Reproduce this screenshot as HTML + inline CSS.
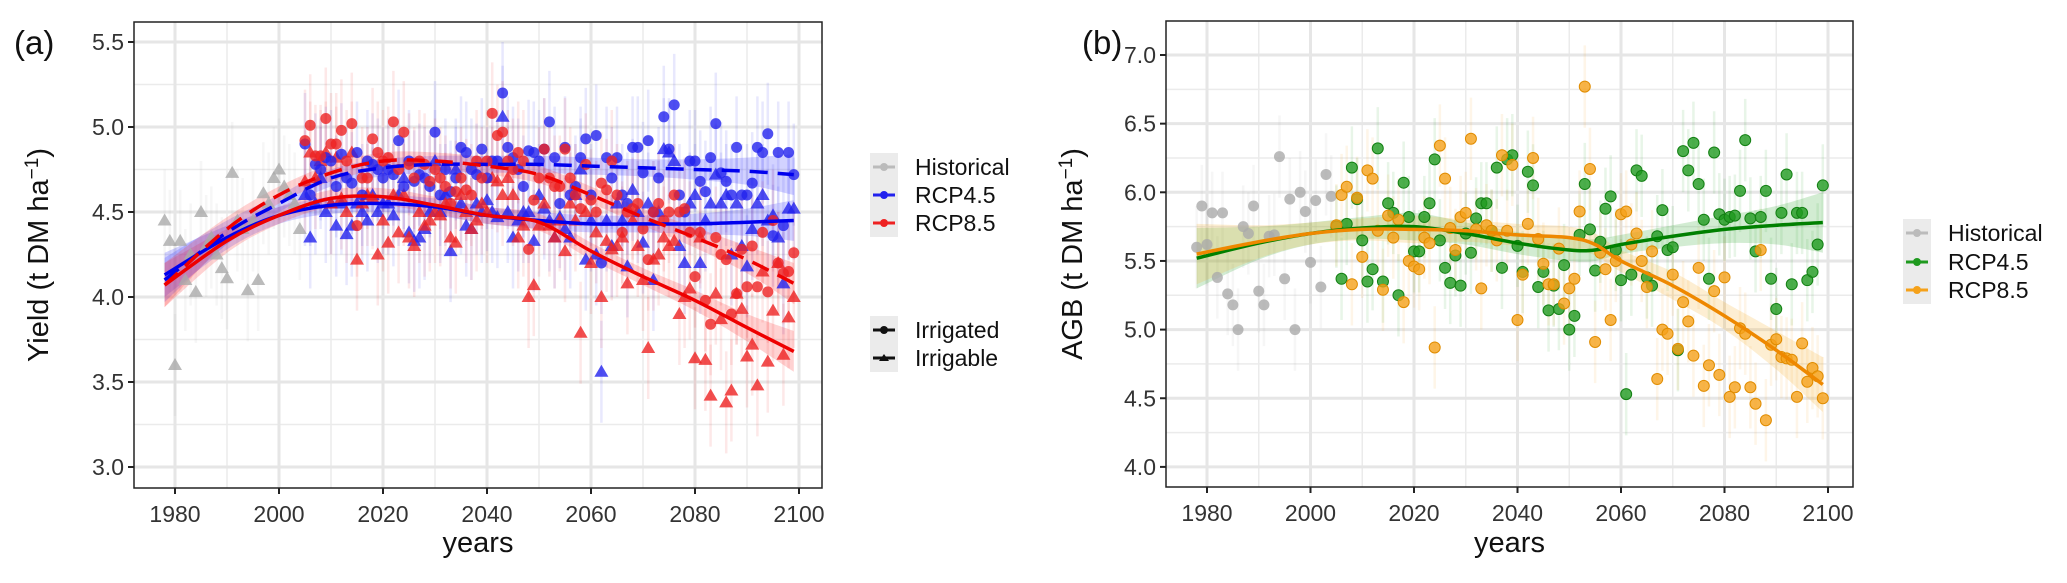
<!DOCTYPE html>
<html><head><meta charset="utf-8"><style>
html,body{margin:0;padding:0;background:#fff;}
svg{display:block;font-family:"Liberation Sans",sans-serif;}
</style></head><body>
<svg id="fig" width="2067" height="583" viewBox="0 0 2067 583" xmlns="http://www.w3.org/2000/svg">
<g id="pa"></g>
<g id="pb"></g>
</svg>
<script>
// ---------- Panel A data ----------
const histYearsA0 = 1978;
const histA = [4.45,4.33,3.6,4.33,4.1,4.25,4.03,4.5,4.3,4.35,4.25,4.17,4.11,4.73,4.45,4.4,4.04,4.45,4.1,4.61,4.55,4.7,4.75,4.65,4.6,4.55,4.4];
const futYear0 = 2005;
const r45IrrigatedA = [4.9,4.6,4.78,4.75,4.82,4.8,4.65,4.84,4.7,4.67,4.85,4.6,4.8,4.78,4.75,4.7,4.75,4.72,4.92,4.65,4.8,4.68,4.72,4.7,4.65,4.97,4.6,4.75,4.62,4.7,4.88,4.85,4.75,4.72,4.87,4.7,4.8,4.8,5.2,4.88,4.82,4.75,4.65,4.86,4.85,4.8,4.87,5.03,4.82,4.55,4.88,4.6,4.65,4.82,4.93,4.6,4.95,4.2,4.82,4.7,4.82,4.6,4.55,4.88,4.88,4.73,4.92,4.5,4.7,5.06,4.87,5.13,4.6,4.5,4.8,4.8,4.68,4.62,4.82,5.02,4.73,4.68,4.6,4.88,4.6,4.6,4.67,4.88,4.85,4.96,4.36,4.85,4.42,4.85,4.72];
const r45IrrigableA = [4.6,4.35,4.55,4.7,4.5,4.55,4.42,4.55,4.37,4.42,4.55,4.5,4.45,4.6,4.5,4.55,4.55,4.48,4.6,4.7,4.38,4.33,4.35,4.4,4.5,4.8,4.5,4.6,4.27,4.75,4.55,4.42,4.4,4.55,4.5,4.57,4.5,4.47,5.06,4.5,4.35,4.45,4.5,4.5,4.33,4.6,4.52,4.45,4.35,4.47,4.4,4.35,4.6,4.75,4.22,4.45,4.25,3.56,4.45,4.3,4.55,4.45,4.18,4.63,4.5,4.32,4.55,4.1,4.5,4.87,4.85,4.8,4.3,4.2,4.55,4.6,4.2,4.45,4.55,4.72,4.55,4.6,4.25,4.55,4.3,4.18,4.4,4.55,4.6,4.45,4.48,4.35,4.08,4.52,4.52];
const r85IrrigatedA = [4.92,5.01,4.83,4.83,5.05,4.9,4.9,4.98,4.8,5.02,4.42,4.7,4.7,4.93,4.85,4.8,4.82,5.03,4.75,4.97,4.78,4.7,4.8,4.78,4.68,4.75,4.7,4.65,4.55,4.62,4.7,4.63,4.6,4.8,4.7,4.8,5.08,4.95,4.97,4.8,4.75,4.85,4.8,4.28,4.57,4.7,4.87,4.7,4.65,4.65,4.87,4.7,4.6,4.52,4.78,4.57,4.5,4.67,4.63,4.8,4.6,4.38,4.5,4.52,4.55,4.4,4.22,4.5,4.55,4.45,4.5,4.6,4.5,4.52,4.38,4.12,4.38,3.98,3.84,4.35,4.25,4.22,3.9,4.02,4.28,4.06,4.3,4.06,4.38,4.03,4.45,4.2,4.14,4.15,4.26];
const r85IrrigableA = [4.68,4.85,4.7,4.8,4.85,4.55,4.82,4.58,4.5,4.85,4.22,4.55,4.6,4.58,4.25,4.45,4.32,4.6,4.38,4.6,4.35,4.3,4.5,4.42,4.45,4.5,4.48,4.55,4.35,4.32,4.6,4.5,4.4,4.45,4.55,4.5,4.7,4.68,4.6,4.7,4.6,4.35,4.42,4.0,4.07,4.42,4.55,4.42,4.35,4.45,4.27,4.55,4.45,3.79,4.5,4.2,4.38,4.0,4.33,4.28,4.3,4.35,4.08,4.45,4.3,4.1,3.7,4.22,4.25,4.35,4.3,4.33,3.9,4.0,4.05,3.64,4.35,3.63,3.42,4.02,3.87,3.38,3.45,4.02,3.93,3.65,3.72,3.48,4.15,3.62,3.92,4.2,3.66,3.88,4.0];
const errA = 0.3;
const knotYearsA = [1978,1990,2000,2010,2020,2030,2040,2050,2060,2070,2080,2090,2099];
const fit45IrrigableA = [4.13,4.35,4.48,4.54,4.55,4.53,4.48,4.45,4.43,4.43,4.43,4.44,4.45];
const fit85IrrigableA = [4.07,4.33,4.48,4.58,4.59,4.54,4.48,4.44,4.27,4.12,3.98,3.82,3.68];
const fit45IrrigatedA = [4.1,4.38,4.55,4.7,4.76,4.78,4.78,4.78,4.77,4.76,4.75,4.74,4.72];
const fit85IrrigatedA = [4.07,4.4,4.6,4.73,4.8,4.8,4.77,4.72,4.6,4.47,4.35,4.22,4.08];
const seA = [0.13,0.07,0.05,0.05,0.05,0.05,0.05,0.05,0.05,0.05,0.06,0.08,0.12];
const yTicksA = [3.0,3.5,4.0,4.5,5.0,5.5];
const xTicks = [1980,2000,2020,2040,2060,2080,2100];

// ---------- Panel B data ----------
const histB = [5.6,5.9,5.62,5.85,5.38,5.85,5.26,5.18,5.0,5.75,5.7,5.9,5.28,5.18,5.68,5.69,6.26,5.37,5.95,5.0,6.0,5.86,5.49,5.94,5.31,6.13,5.97];
const r45B = [5.75,5.37,5.77,6.18,5.95,5.65,5.35,5.44,6.32,5.35,5.92,5.85,5.25,6.07,5.82,5.57,5.57,5.82,5.92,6.24,5.65,5.45,5.34,5.54,5.32,5.7,5.56,5.81,5.92,5.92,5.72,6.18,5.45,6.24,6.27,5.61,5.42,6.15,6.05,5.31,5.42,5.14,5.32,5.15,5.47,5.0,5.1,5.69,6.06,5.73,5.43,5.64,5.88,5.97,5.58,5.36,4.53,5.4,6.16,6.12,5.38,5.32,5.68,5.87,5.58,5.6,4.85,6.3,6.16,6.36,6.06,5.8,5.37,6.29,5.84,5.8,5.82,5.83,6.01,6.38,5.81,5.57,5.82,6.01,5.37,5.15,5.85,6.13,5.33,5.85,5.85,5.36,5.42,5.62,6.05];
const r85B = [5.76,5.98,6.04,5.33,5.96,5.53,6.16,6.1,5.72,5.29,5.83,5.67,5.8,5.2,5.5,5.46,5.44,5.67,5.63,4.87,6.34,6.1,5.74,5.58,5.82,5.85,6.39,5.73,5.3,5.76,5.72,5.65,6.27,5.72,6.2,5.07,5.4,5.77,6.25,5.66,5.48,5.33,5.33,5.59,5.19,5.3,5.37,5.86,6.77,6.17,4.91,5.56,5.44,5.07,5.5,5.84,5.86,5.62,5.7,5.5,5.31,5.57,4.64,5.0,4.97,5.4,4.86,5.2,5.06,4.81,5.45,4.59,4.74,5.28,4.67,5.38,4.51,4.58,5.01,4.97,4.58,4.46,5.58,4.34,4.89,4.93,4.8,4.79,4.78,4.51,4.9,4.62,4.72,4.66,4.5];
const errB = 0.3;
const knotYearsB = [1978,1990,2000,2010,2020,2030,2040,2050,2055,2060,2070,2080,2090,2099];
const fit45B = [5.52,5.63,5.7,5.74,5.75,5.7,5.63,5.58,5.58,5.62,5.68,5.73,5.76,5.78];
const fit85B = [5.55,5.64,5.7,5.73,5.73,5.72,5.69,5.67,5.62,5.5,5.32,5.1,4.85,4.6];
const se45B = [0.22,0.12,0.08,0.08,0.1,0.08,0.08,0.08,0.08,0.07,0.08,0.1,0.14,0.22];
const se85B = [0.22,0.12,0.08,0.08,0.1,0.08,0.08,0.08,0.08,0.08,0.1,0.1,0.14,0.2];
const yTicksB = [4.0,4.5,5.0,5.5,6.0,6.5,7.0];

const NS = "http://www.w3.org/2000/svg";
function mk(parent, tag, attrs, text){
  const e = document.createElementNS(NS, tag);
  for (const k in attrs) e.setAttribute(k, attrs[k]);
  if (text !== undefined) e.textContent = text;
  parent.appendChild(e);
  return e;
}
function smoothPath(pts){
  let d = "M" + pts[0][0] + "," + pts[0][1];
  for (let i = 0; i < pts.length - 1; i++){
    const p0 = pts[Math.max(0,i-1)], p1 = pts[i], p2 = pts[i+1], p3 = pts[Math.min(pts.length-1,i+2)];
    const c1x = p1[0] + (p2[0]-p0[0])/6, c1y = p1[1] + (p2[1]-p0[1])/6;
    const c2x = p2[0] - (p3[0]-p1[0])/6, c2y = p2[1] - (p3[1]-p1[1])/6;
    d += " C" + c1x + "," + c1y + " " + c2x + "," + c2y + " " + p2[0] + "," + p2[1];
  }
  return d;
}
function ribbonPath(xs, up, lo){
  const a = xs.map((x,i)=>[x, up[i]]);
  const b = xs.map((x,i)=>[x, lo[i]]).reverse();
  let d = smoothPath(a);
  d += " L" + b[0][0] + "," + b[0][1] + smoothPath(b).replace(/^M[^C]*/, " ");
  return d + " Z";
}

function panel(g, cfg){
  const {L,R,T,B,yt} = cfg;
  const xS = yr => cfg.x1980 + (yr-1980)*cfg.pxYear;
  const Y = v => cfg.yTop + (cfg.yTopVal - v)*cfg.pxUnit;
  const grid = mk(g,"g",{});  
  for (let yr=1990; yr<=2090; yr+=20) mk(grid,"line",{x1:xS(yr),x2:xS(yr),y1:T,y2:B,stroke:"#ebebeb","stroke-width":1.5});
  for (let v=yt[0]-0.25; v<=yt[yt.length-1]+0.3; v+=0.5) { const yy=Y(v); if(yy>T&&yy<B) mk(grid,"line",{x1:L,x2:R,y1:yy,y2:yy,stroke:"#ebebeb","stroke-width":1.5}); }
  xTicks.forEach(yr=>mk(grid,"line",{x1:xS(yr),x2:xS(yr),y1:T,y2:B,stroke:"#e6e6e6","stroke-width":3}));
  yt.forEach(v=>mk(grid,"line",{x1:L,x2:R,y1:Y(v),y2:Y(v),stroke:"#e6e6e6","stroke-width":3}));
  cfg.series.forEach(s=>{
    const sg = mk(g,"g",{});
    
    
    s.vals.forEach((v,i)=>{
      const x = xS(s.y0+i);
      mk(sg,"line",{x1:x,x2:x,y1:Y(v+cfg.err),y2:Y(v-cfg.err),stroke:s.color,"stroke-width":2.5,"stroke-opacity":0.1});
    });
  });
  cfg.fits.forEach(f=>{
    const xs = f.years.map(xS);
    const up = f.vals.map((v,i)=>Y(v+f.se[i])), lo = f.vals.map((v,i)=>Y(v-f.se[i]));
    const rb = mk(g,"path",{d:ribbonPath(xs,up,lo),fill:f.fill,"fill-opacity":0.22,stroke:"none"});
    
    
  });
  cfg.series.forEach(s=>{
    const sg = mk(g,"g",{});
    
    
    s.vals.forEach((v,i)=>{
      const x = xS(s.y0+i), y = Y(v);
      if (s.shape==="tri") mk(sg,"path",{d:`M${x},${y-7} L${x+7},${y+5} L${x-7},${y+5} Z`,fill:s.color,"fill-opacity":0.8});
      else mk(sg,"circle",{cx:x,cy:y,r:5.5,fill:s.color,"fill-opacity":0.8,stroke:s.stroke||"none","stroke-width":1});
    });
  });
  cfg.fits.forEach(f=>{
    const pts = f.years.map((yr,i)=>[xS(yr),Y(f.vals[i])]);
    const ln = mk(g,"path",{d:smoothPath(pts),fill:"none",stroke:f.color,"stroke-width":3.5,"stroke-dasharray":f.dash||"none"});
    
    
  });
  const fr = mk(g,"rect",{x:L,y:T,width:R-L,height:B-T,fill:"none",stroke:"#222","stroke-width":1.5});
   
  const ya = mk(g,"g",{});  
  yt.forEach(v=>{
    mk(ya,"line",{x1:L-6,x2:L,y1:Y(v),y2:Y(v),stroke:"#222","stroke-width":2});
    mk(ya,"text",{x:L-10,y:Y(v)+8,"text-anchor":"end","font-size":23,fill:"#333"},v.toFixed(1));
  });
  const xa = mk(g,"g",{});  
  xTicks.forEach(yr=>{
    mk(xa,"line",{x1:xS(yr),x2:xS(yr),y1:B,y2:B+6,stroke:"#222","stroke-width":2});
    mk(xa,"text",{x:xS(yr),y:B+34,"text-anchor":"middle","font-size":23,fill:"#333"},String(yr));
  });
  const xt = mk(g,"text",{x:(L+R)/2,y:552,"text-anchor":"middle","font-size":29,fill:"#111"},"years");
   
  const ytt = mk(g,"text",{x:0,y:0,transform:`translate(${cfg.ytx},${(T+B)/2}) rotate(-90)`,"text-anchor":"middle","font-size":29,fill:"#111"});
   
  ytt.appendChild(document.createTextNode(cfg.ylab + " (t DM ha"));
  mk(ytt,"tspan",{"baseline-shift":"super","font-size":19},"−1");
  ytt.appendChild(document.createTextNode(")"));
  const pl = mk(g,"text",{x:cfg.plx,y:54,"font-size":33,fill:"#111"},cfg.panelLabel);
   
}

function legend(g, x, ys, items, name){
  const lg = mk(g,"g",{});
  
  
  mk(lg,"rect",{x:x,y:ys[0]-14,width:28,height:ys[ys.length-1]-ys[0]+28,fill:"#ebebeb"});
  items.forEach((it,i)=>{
    const y = ys[i];
    mk(lg,"line",{x1:x+3,x2:x+25,y1:y,y2:y,stroke:it.color,"stroke-width":3});
    if (it.shape==="tri") mk(lg,"path",{d:`M${x+14},${y-4} L${x+19},${y+3} L${x+9},${y+3} Z`,fill:it.color});
    else mk(lg,"circle",{cx:x+14,cy:y,r:4,fill:it.color});
    mk(lg,"text",{x:x+45,y:y+8,"font-size":23,fill:"#111"},it.label);
  });
}

const pa = document.getElementById("pa"), pb = document.getElementById("pb");
panel(pa,{L:134,R:822,T:22,B:488,x1980:175,pxYear:5.2,yTop:42,yTopVal:5.5,pxUnit:170,yt:yTicksA,err:errA,ytx:48,ylab:"Yield",plx:14,panelLabel:"(a)",
  series:[
    {name:"historical-points",vals:histA,y0:histYearsA0,color:"#aaaaaa",shape:"tri"},
    {name:"rcp45-irrigable-points",vals:r45IrrigableA,y0:futYear0,color:"#2222ee",shape:"tri"},
    {name:"rcp85-irrigable-points",vals:r85IrrigableA,y0:futYear0,color:"#ee2222",shape:"tri"},
    {name:"rcp45-irrigated-points",vals:r45IrrigatedA,y0:futYear0,color:"#2222ee",shape:"circ"},
    {name:"rcp85-irrigated-points",vals:r85IrrigatedA,y0:futYear0,color:"#ee2222",shape:"circ"}],
  fits:[
    {name:"rcp45-irrigable",years:knotYearsA,vals:fit45IrrigableA,se:seA,color:"#0000ee",fill:"#3333ff"},
    {name:"rcp85-irrigable",years:knotYearsA,vals:fit85IrrigableA,se:seA,color:"#ee0000",fill:"#ff3333"},
    {name:"rcp45-irrigated",years:knotYearsA,vals:fit45IrrigatedA,se:seA,color:"#0000ee",fill:"#3333ff",dash:"18 10"},
    {name:"rcp85-irrigated",years:knotYearsA,vals:fit85IrrigatedA,se:seA,color:"#ee0000",fill:"#ff3333",dash:"18 10"}]
});
panel(pb,{L:1166,R:1853,T:21,B:487,x1980:1207,pxYear:5.175,yTop:55,yTopVal:7.0,pxUnit:137.3,yt:yTicksB,err:errB,ytx:1082,ylab:"AGB",plx:1082,panelLabel:"(b)",
  series:[
    {name:"historical-points",vals:histB,y0:1978,color:"#aaaaaa",shape:"circ"},
    {name:"rcp45-points",vals:r45B,y0:futYear0,color:"#1f9a1f",shape:"circ",stroke:"#138013"},
    {name:"rcp85-points",vals:r85B,y0:futYear0,color:"#f5a11a",shape:"circ",stroke:"#e08c00"}],
  fits:[
    {name:"rcp45",years:knotYearsB,vals:fit45B,se:se45B,color:"#008000",fill:"#33aa33"},
    {name:"rcp85",years:knotYearsB,vals:fit85B,se:se85B,color:"#ee8800",fill:"#f5b030"}]
});
legend(pa,870,[167,195,223],[{label:"Historical",color:"#bbbbbb"},{label:"RCP4.5",color:"#2222ee"},{label:"RCP8.5",color:"#ee2222"}],"legend-scenario");
legend(pa,870,[330,358],[{label:"Irrigated",color:"#111"},{label:"Irrigable",color:"#111",shape:"tri"}],"legend-irrigation");
legend(pb,1903,[233,262,290],[{label:"Historical",color:"#bbbbbb"},{label:"RCP4.5",color:"#1f9a1f"},{label:"RCP8.5",color:"#f5a11a"}],"legend-scenario-b");
</script>
</body></html>
